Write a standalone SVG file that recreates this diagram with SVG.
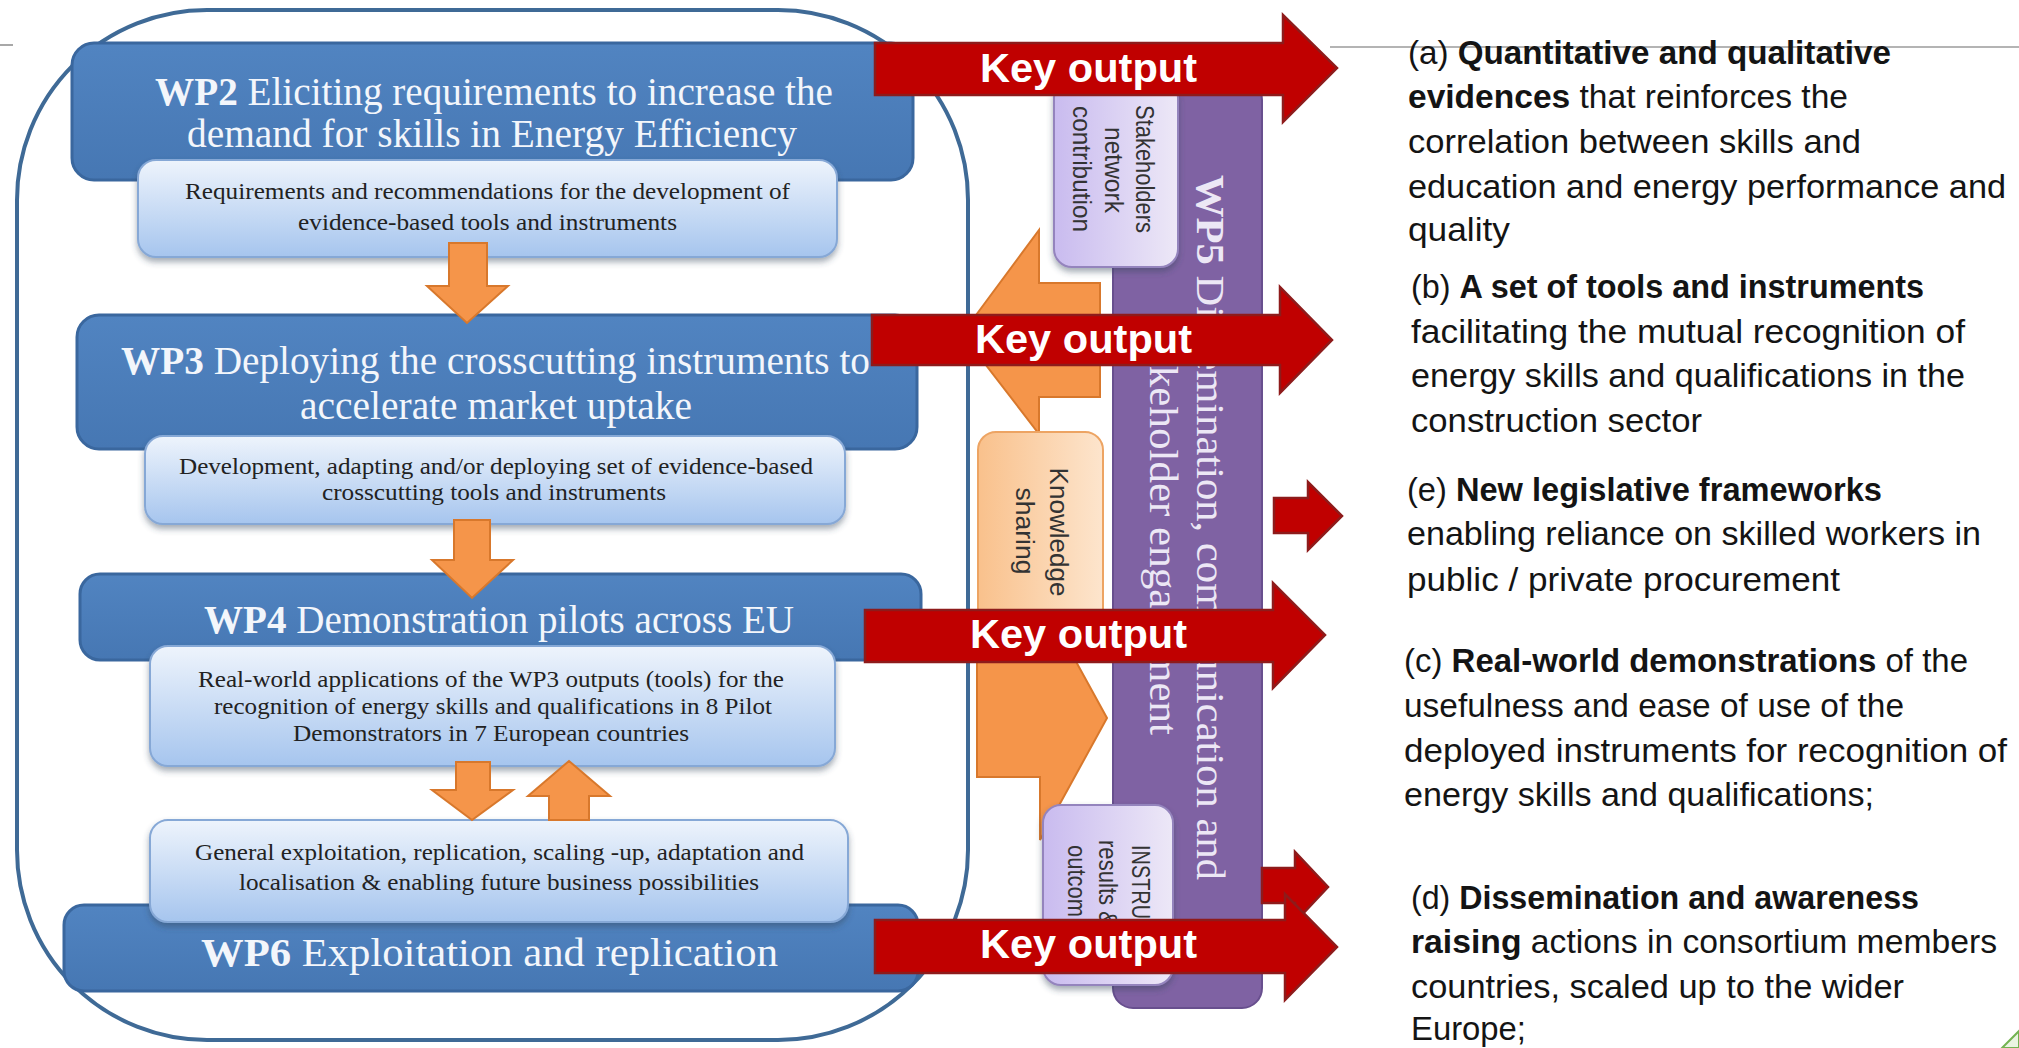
<svg xmlns="http://www.w3.org/2000/svg" width="2019" height="1048" viewBox="0 0 2019 1048">
<defs>
<linearGradient id="gSub" x1="0" y1="0" x2="0" y2="1"><stop offset="0" stop-color="#eef4fc"/><stop offset="1" stop-color="#a6c5ee"/></linearGradient>
<linearGradient id="gBlue" x1="0" y1="0" x2="0" y2="1"><stop offset="0" stop-color="#5184c1"/><stop offset="1" stop-color="#4677b3"/></linearGradient>
<linearGradient id="gLav" x1="0" y1="0" x2="1" y2="0"><stop offset="0" stop-color="#c9bbef"/><stop offset="1" stop-color="#ede8f7"/></linearGradient>
<linearGradient id="gPeach" x1="0" y1="0" x2="1" y2="0"><stop offset="0" stop-color="#f9c18c"/><stop offset="1" stop-color="#fde5cd"/></linearGradient>
<filter id="sh" x="-10%" y="-20%" width="120%" height="150%"><feDropShadow dx="0" dy="4" stdDeviation="3" flood-color="#33445c" flood-opacity="0.45"/></filter>
<style>
.wp{fill:url(#gBlue);stroke:#3a679e;stroke-width:3}
.sub{fill:url(#gSub);stroke:#86a8d6;stroke-width:2;filter:url(#sh)}
.title{font-family:"Liberation Serif",serif;font-size:39px;fill:#f3f6fb}
.subt{font-family:"Liberation Serif",serif;font-size:23px;fill:#222222}
.oarr{fill:#f5954a;stroke:#d8782c;stroke-width:2}
.kout{fill:#c00000;stroke:#8e1b1b;stroke-width:2.5}
.ktext{font-family:"Liberation Sans",sans-serif;font-weight:bold;font-size:40px;fill:#ffffff}
.body{font-family:"Liberation Sans",sans-serif;font-size:33px;fill:#141414}
.b{font-weight:bold}
.vt{font-family:"Liberation Sans",sans-serif;font-size:25px;fill:#333333}
.wp5t{font-family:"Liberation Serif",serif;font-size:41px;fill:#ece7f5}
.lav{fill:url(#gLav);stroke:#9484bd;stroke-width:2;filter:url(#sh)}
</style>
</defs>
<rect x="0" y="0" width="2019" height="1048" fill="#ffffff"/>
<g id="page-lines">
<line x1="0" y1="45" x2="13" y2="45" stroke="#a8a8a8" stroke-width="2"/>
<line x1="1330" y1="47" x2="2019" y2="47" stroke="#b4b4b4" stroke-width="2"/>
<polygon points="2002,1048 2019,1031 2019,1048" fill="#eaf5e2" stroke="#74b352" stroke-width="2"/>
</g>
<g id="frame">
<rect x="17" y="10" width="951" height="1030" rx="190" ry="190" fill="#ffffff" stroke="#3f6a96" stroke-width="4"/>
</g>
<g id="wp2">
<rect class="wp" x="72" y="43" width="841" height="137" rx="22"/>
<text class="title" x="155" y="105" textLength="678" lengthAdjust="spacingAndGlyphs"><tspan class="b">WP2</tspan> Eliciting requirements to increase the</text>
<text class="title" x="187" y="147" textLength="610" lengthAdjust="spacingAndGlyphs">demand for skills in Energy Efficiency</text>
<rect class="sub" x="138" y="160" width="699" height="97" rx="18"/>
<text class="subt" x="185" y="199" textLength="605" lengthAdjust="spacingAndGlyphs">Requirements and recommendations for the development of</text>
<text class="subt" x="298" y="230" textLength="379" lengthAdjust="spacingAndGlyphs">evidence-based tools and instruments</text>
</g>
<g id="wp3">
<rect class="wp" x="77" y="315" width="840" height="134" rx="22"/>
<text class="title" x="121" y="374" textLength="749" lengthAdjust="spacingAndGlyphs"><tspan class="b">WP3</tspan> Deploying the crosscutting instruments to</text>
<text class="title" x="300" y="419" textLength="392" lengthAdjust="spacingAndGlyphs">accelerate market uptake</text>
<rect class="sub" x="145" y="436" width="700" height="88" rx="18"/>
<text class="subt" x="179" y="474" textLength="634" lengthAdjust="spacingAndGlyphs">Development, adapting and/or deploying set of evidence-based</text>
<text class="subt" x="322" y="500" textLength="344" lengthAdjust="spacingAndGlyphs">crosscutting tools and instruments</text>
</g>
<g id="wp4">
<rect class="wp" x="80" y="574" width="841" height="86" rx="20"/>
<text class="title" x="204" y="633" textLength="590" lengthAdjust="spacingAndGlyphs"><tspan class="b">WP4</tspan> Demonstration pilots across EU</text>
<rect class="sub" x="150" y="646" width="685" height="120" rx="18"/>
<text class="subt" x="198" y="687" textLength="586" lengthAdjust="spacingAndGlyphs">Real-world applications of the WP3 outputs (tools) for the</text>
<text class="subt" x="214" y="714" textLength="558" lengthAdjust="spacingAndGlyphs">recognition of energy skills and qualifications in 8 Pilot</text>
<text class="subt" x="293" y="741" textLength="396" lengthAdjust="spacingAndGlyphs">Demonstrators in 7 European countries</text>
</g>
<g id="wp6">
<rect class="wp" x="64" y="905" width="854" height="86" rx="20"/>
<text class="title" x="201" y="966" textLength="577" lengthAdjust="spacingAndGlyphs"><tspan class="b">WP6</tspan> Exploitation and replication</text>
<rect class="sub" x="150" y="820" width="698" height="102" rx="18"/>
<text class="subt" x="195" y="860" textLength="609" lengthAdjust="spacingAndGlyphs">General exploitation, replication, scaling -up, adaptation and</text>
<text class="subt" x="239" y="890" textLength="520" lengthAdjust="spacingAndGlyphs">localisation &amp; enabling future business possibilities</text>
</g>
<g id="connectors-back">
<polygon class="oarr" points="962,334 1039,230 1039,283 1100,283 1100,397 1039,397 1039,434"/>
<polygon class="oarr" points="977,659 1040,659 1040,596 1107,718 1040,840 1040,777 977,777"/>
</g>
<g id="wp5">
<rect x="1113" y="80" width="149" height="928" rx="20" fill="#7f62a3" stroke="#684f8e" stroke-width="2"/>
<text class="wp5t" transform="translate(1197,175) rotate(90)" textLength="705" lengthAdjust="spacingAndGlyphs"><tspan class="b">WP5</tspan> Dissemination, communication and</text>
<text class="wp5t" transform="translate(1150,318) rotate(90)" textLength="417" lengthAdjust="spacingAndGlyphs">stakeholder engagement</text>
</g>
<g id="stakeholders">
<rect class="lav" x="1054" y="80" width="124" height="187" rx="18"/>
<text class="vt" text-anchor="middle" transform="translate(1136,169) rotate(90)" textLength="128" lengthAdjust="spacingAndGlyphs">Stakeholders</text>
<text class="vt" text-anchor="middle" transform="translate(1105,170) rotate(90)" textLength="86" lengthAdjust="spacingAndGlyphs">network</text>
<text class="vt" text-anchor="middle" transform="translate(1073,169) rotate(90)" textLength="126" lengthAdjust="spacingAndGlyphs">contribution</text>
</g>
<g id="knowledge">
<rect x="978" y="432" width="125" height="223" rx="18" fill="url(#gPeach)" stroke="#eda463" stroke-width="2"/>
<text class="vt" text-anchor="middle" transform="translate(1050,532) rotate(90)" textLength="129" lengthAdjust="spacingAndGlyphs">Knowledge</text>
<text class="vt" text-anchor="middle" transform="translate(1016,531) rotate(90)" textLength="87" lengthAdjust="spacingAndGlyphs">sharing</text>
</g>
<g id="instruments">
<rect class="lav" x="1043" y="805" width="130" height="180" rx="18"/>
<text class="vt" transform="translate(1132,845) rotate(90)" textLength="74" lengthAdjust="spacingAndGlyphs">INSTRU</text>
<text class="vt" transform="translate(1099,840) rotate(90)" textLength="86" lengthAdjust="spacingAndGlyphs">results &amp;</text>
<text class="vt" transform="translate(1068,845) rotate(90)" textLength="72" lengthAdjust="spacingAndGlyphs">outcom</text>
</g>
<g id="connectors">
<polygon class="oarr" points="449,243 487,243 487,286 508,286 467,323 427,286 449,286"/>
<polygon class="oarr" points="454,520 490,520 490,560 513,560 472,598 432,560 454,560"/>
<polygon class="oarr" points="456,762 490,762 490,790 513,790 472,820 432,790 456,790"/>
<polygon class="oarr" points="549,820 589,820 589,796 610,796 569,761 528,796 549,796"/>
<polygon class="kout" points="1274,498 1308,498 1308,482 1342,516 1308,550 1308,533 1274,533"/>
<polygon class="kout" points="1262,868 1295,868 1295,852 1328,887 1295,922 1295,903 1262,903"/>
<g id="key1"><polygon class="kout" points="875,43 1283,43 1283,15 1337,68 1283,122 1283,95 875,95"/><text class="ktext" x="980" y="82" textLength="217" lengthAdjust="spacingAndGlyphs">Key output</text></g>
<g id="key2"><polygon class="kout" points="872,315 1280,315 1280,287 1332,340 1280,393 1280,365 872,365"/><text class="ktext" x="975" y="353" textLength="217" lengthAdjust="spacingAndGlyphs">Key output</text></g>
<g id="key3"><polygon class="kout" points="865,610 1273,610 1273,583 1325,635 1273,688 1273,662 865,662"/><text class="ktext" x="970" y="648" textLength="217" lengthAdjust="spacingAndGlyphs">Key output</text></g>
<g id="key4"><polygon class="kout" points="875,920 1285,920 1285,894 1337,947 1285,1000 1285,973 875,973"/><text class="ktext" x="980" y="958" textLength="217" lengthAdjust="spacingAndGlyphs">Key output</text></g>
</g>
<g id="output-a">
<text class="body" x="1408" y="64" textLength="483" lengthAdjust="spacingAndGlyphs">(a) <tspan class="b">Quantitative and qualitative</tspan></text>
<text class="body" x="1408" y="108" textLength="440" lengthAdjust="spacingAndGlyphs"><tspan class="b">evidences</tspan> that reinforces the</text>
<text class="body" x="1408" y="153" textLength="453" lengthAdjust="spacingAndGlyphs">correlation between skills and</text>
<text class="body" x="1408" y="198" textLength="598" lengthAdjust="spacingAndGlyphs">education and energy performance and</text>
<text class="body" x="1408" y="241" textLength="102" lengthAdjust="spacingAndGlyphs">quality</text>
</g>
<g id="output-b">
<text class="body" x="1411" y="298" textLength="513" lengthAdjust="spacingAndGlyphs">(b) <tspan class="b">A set of tools and instruments</tspan></text>
<text class="body" x="1411" y="343" textLength="554" lengthAdjust="spacingAndGlyphs">facilitating the mutual recognition of</text>
<text class="body" x="1411" y="387" textLength="554" lengthAdjust="spacingAndGlyphs">energy skills and qualifications in the</text>
<text class="body" x="1411" y="432" textLength="291" lengthAdjust="spacingAndGlyphs">construction sector</text>
</g>
<g id="output-e">
<text class="body" x="1407" y="501" textLength="475" lengthAdjust="spacingAndGlyphs">(e) <tspan class="b">New legislative frameworks</tspan></text>
<text class="body" x="1407" y="545" textLength="574" lengthAdjust="spacingAndGlyphs">enabling reliance on skilled workers in</text>
<text class="body" x="1407" y="591" textLength="433" lengthAdjust="spacingAndGlyphs">public / private procurement</text>
</g>
<g id="output-c">
<text class="body" x="1404" y="672" textLength="564" lengthAdjust="spacingAndGlyphs">(c) <tspan class="b">Real-world demonstrations</tspan> of the</text>
<text class="body" x="1404" y="717" textLength="500" lengthAdjust="spacingAndGlyphs">usefulness and ease of use of the</text>
<text class="body" x="1404" y="762" textLength="603" lengthAdjust="spacingAndGlyphs">deployed instruments for recognition of</text>
<text class="body" x="1404" y="806" textLength="470" lengthAdjust="spacingAndGlyphs">energy skills and qualifications;</text>
</g>
<g id="output-d">
<text class="body" x="1411" y="909" textLength="508" lengthAdjust="spacingAndGlyphs">(d) <tspan class="b">Dissemination and awareness</tspan></text>
<text class="body" x="1411" y="953" textLength="586" lengthAdjust="spacingAndGlyphs"><tspan class="b">raising</tspan> actions in consortium members</text>
<text class="body" x="1411" y="998" textLength="493" lengthAdjust="spacingAndGlyphs">countries, scaled up to the wider</text>
<text class="body" x="1411" y="1040" textLength="115" lengthAdjust="spacingAndGlyphs">Europe;</text>
</g>
</svg>
